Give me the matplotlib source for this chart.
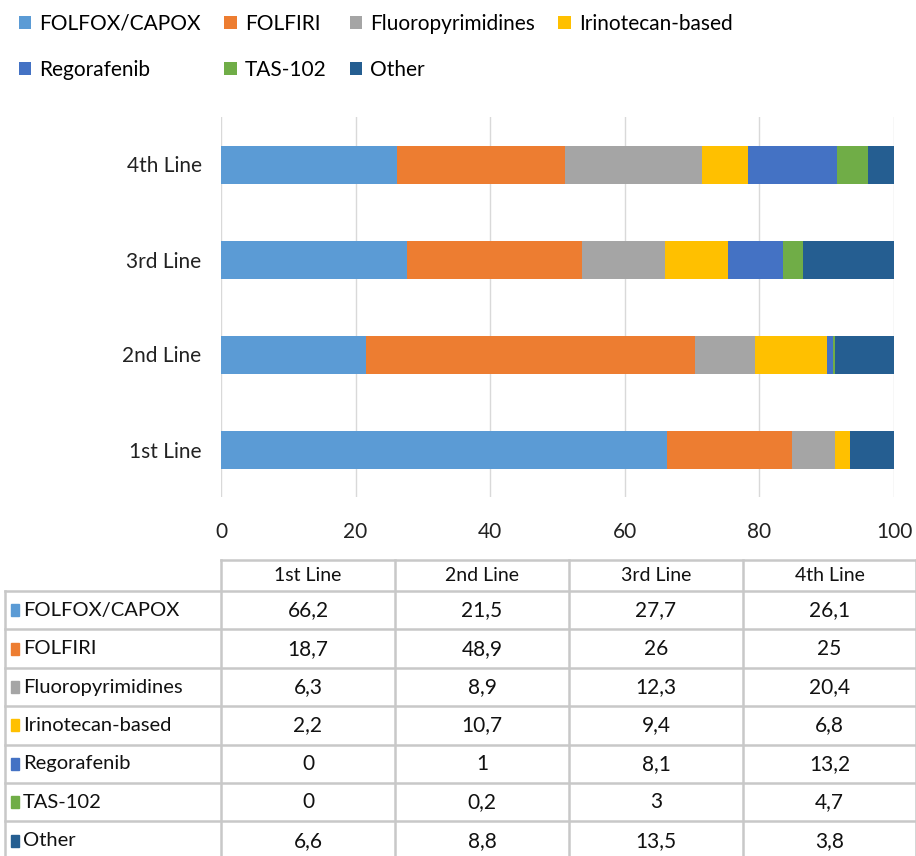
import matplotlib
matplotlib.use("Agg")
import matplotlib.pyplot as plt
from matplotlib.patches import Rectangle
import numpy as np

plt.rcParams['font.family'] = ['Lato', 'DejaVu Sans']

lines = ["1st Line", "2nd Line", "3rd Line", "4th Line"]
regimens = ["FOLFOX/CAPOX", "FOLFIRI", "Fluoropyrimidines", "Irinotecan-based",
            "Regorafenib", "TAS-102", "Other"]
folfox = [66.2, 21.5, 27.7, 26.1]
folfiri = [18.7, 48.9, 26, 25]
fluoro = [6.3, 8.9, 12.3, 20.4]
irino = [2.2, 10.7, 9.4, 6.8]
rego = [0, 1, 8.1, 13.2]
tas = [0, 0.2, 3, 4.7]
other = [6.6, 8.8, 13.5, 3.8]
series = [folfox, folfiri, fluoro, irino, rego, tas, other]
colors = ["#5B9BD5", "#ED7D31", "#A5A5A5", "#FFC000", "#4472C4", "#70AD47", "#255E91"]

W, H = 916, 856
fig = plt.figure(figsize=(W / 100, H / 100), dpi=100)

# bar chart
ax = fig.add_axes([221 / W, 1 - 497 / H, (894 - 221) / W, 380 / H])
y = np.arange(len(lines))
left = np.zeros(len(lines))
handles = []
for name, vals, c in zip(regimens, series, colors):
    b = ax.barh(y, vals, left=left, height=0.4, color=c, label=name, zorder=2)
    handles.append(b)
    left += np.array(vals)
ax.set_xlim(0, 100)
ax.set_ylim(-0.5, 3.5)
ax.set_xticks(range(0, 101, 20))
ax.set_yticks(y)
ax.set_yticklabels(lines)
ax.grid(axis="x", color="#d9d9d9", linewidth=1, zorder=0)
for s in ax.spines.values():
    s.set_visible(False)
ax.tick_params(length=0, labelsize=15, colors="#222222")
ax.tick_params(axis="x", pad=18)
ax.tick_params(axis="y", pad=14)

# legend, reordered so columns line up like the original
order = [0, 4, 1, 5, 2, 6, 3]
fig.legend([handles[i] for i in order], [regimens[i] for i in order],
           ncol=4, loc="upper left", bbox_to_anchor=(0, 1 + 5 / H),
           frameon=False, fontsize=15, handlelength=0.6, handleheight=0.6,
           handletextpad=0.4, columnspacing=1.1, labelspacing=1.25)

# data table
tax = fig.add_axes([0, 0, 1, 1])
tax.set_xlim(0, W)
tax.set_ylim(H, 0)
tax.axis("off")
col_x = [5, 221, 395, 569, 743, 916]
row_y = [560, 591] + [591 + 38.4 * (i + 1) for i in range(len(regimens))]
gc = "#c8c8c8"
lw = 1.8
# header row (no label cell border)
tax.plot([col_x[1], col_x[-1]], [row_y[0], row_y[0]], color=gc, lw=lw)
for yy in row_y[1:]:
    tax.plot([col_x[0], col_x[-1]], [yy, yy], color=gc, lw=lw)
tax.plot([col_x[0], col_x[0]], [row_y[1], H], color=gc, lw=lw)
for xx in col_x[1:]:
    tax.plot([xx, xx], [row_y[0], H], color=gc, lw=lw)
for j, name in enumerate(lines):
    tax.text((col_x[j + 1] + col_x[j + 2]) / 2, (row_y[0] + row_y[1]) / 2, name,
             ha="center", va="center", fontsize=14, color="#111111")
for i, (name, vals, c) in enumerate(zip(regimens, series, colors)):
    yc = (row_y[i + 1] + row_y[i + 2]) / 2
    tax.add_patch(Rectangle((11, yc - 6), 8, 12, color=c))
    tax.text(23, yc, name, ha="left", va="center", fontsize=14.5, color="#111111")
    for j, v in enumerate(vals):
        tax.text((col_x[j + 1] + col_x[j + 2]) / 2, yc, f"{v:g}".replace(".", ","),
                 ha="center", va="center", fontsize=15, color="#111111")

fig.savefig("out.png", dpi=100)
